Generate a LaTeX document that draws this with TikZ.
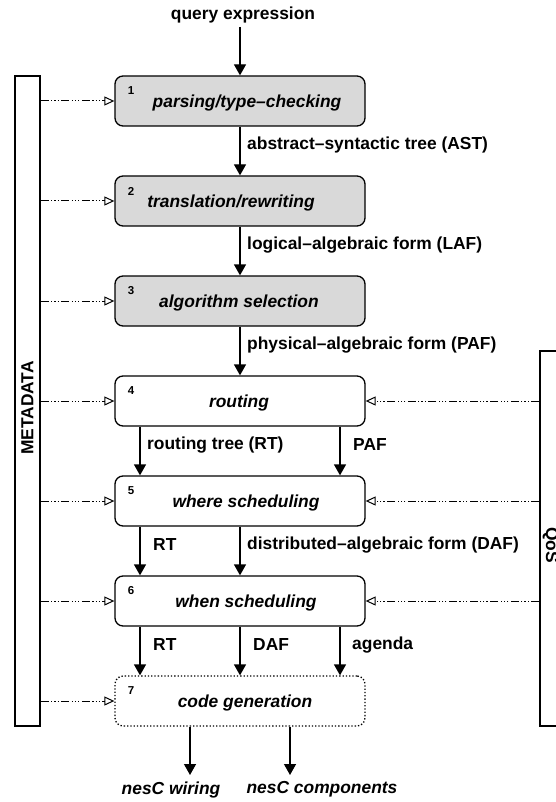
\documentclass[tikz,border=0pt]{standalone}
\usepackage{fontspec}
\setmainfont{Liberation Sans}
\usetikzlibrary{arrows.meta}
\begin{document}
\begin{tikzpicture}[x=1pt,y=-1pt,
  every node/.style={font=\fontsize{17.4}{20}\selectfont\bfseries, inner sep=0pt},
  stage/.style={draw, line width=1.3pt, rounded corners=8pt, minimum width=250pt, minimum height=50pt},
  greystage/.style={stage, fill=black!15},
  dotstage/.style={stage, dash pattern=on 1.3pt off 2pt},
  num/.style={font=\fontsize{11.5}{13}\selectfont\bfseries},
  lab/.style={font=\fontsize{17.4}{20}\selectfont\bfseries\itshape},
  arr/.style={line width=1.3pt, -{Triangle[width=12pt,length=11pt]}},
  dd/.style={line width=1pt, dash pattern=on 8pt off 2.5pt on 1.2pt off 2pt on 1.2pt off 2pt on 1.2pt off 2.5pt, -{Triangle[open,width=9pt,length=10pt,line width=1pt]}},
  elab/.style={anchor=west},
  sidebox/.style={draw, line width=1.3pt, minimum width=25pt}
]
\useasboundingbox (0,0) rectangle (555,802);

% side boxes
\node[sidebox, minimum height=650pt] (meta) at (27.5,401) {};
\node[rotate=90] (metat) at (27.5,408) {METADATA};
\node[sidebox, minimum height=375pt] (qos) at (552.5,538.5) {};
\node[rotate=-90] (qost) at (550.5,545) {QoS};

% stages
\node[greystage] (b1) at (240,101) {};
\node[greystage] (b2) at (240,201) {};
\node[greystage] (b3) at (240,301) {};
\node[stage] (b4) at (240,401) {};
\node[stage] (b5) at (240,501) {};
\node[stage] (b6) at (240,601) {};
\node[dotstage] (b7) at (240,701) {};

\node[lab] (t1) at (247,103) {parsing/type–checking};
\node[lab] (t2) at (231,203) {translation/rewriting};
\node[lab] (t3) at (239,303) {algorithm selection};
\node[lab] (t4) at (239,403) {routing};
\node[lab] (t5) at (246,503) {where scheduling};
\node[lab] (t6) at (246,603) {when scheduling};
\node[lab] (t7) at (245,703) {code generation};

\node[num] (n1) at (131,91) {1};
\node[num] (n2) at (131,191) {2};
\node[num] (n3) at (131,291) {3};
\node[num] (n4) at (131,391) {4};
\node[num] (n5) at (131,491) {5};
\node[num] (n6) at (131,591) {6};
\node[num] (n7) at (131,691) {7};

% input
\node (q) at (243,15) {query expression};
\coordinate (qs) at (240,27);
\draw[arr] (qs) -- (b1.north);

% main arrows
\draw[arr] (b1.south) -- (b2.north);
\draw[arr] (b2.south) -- (b3.north);
\draw[arr] (b3.south) -- (b4.north);
\draw[arr] ([xshift=-100pt]b4.south) -- ([xshift=-100pt]b5.north);
\draw[arr] ([xshift=100pt]b4.south) -- ([xshift=100pt]b5.north);
\draw[arr] ([xshift=-100pt]b5.south) -- ([xshift=-100pt]b6.north);
\draw[arr] (b5.south) -- (b6.north);
\draw[arr] ([xshift=-100pt]b6.south) -- ([xshift=-100pt]b7.north);
\draw[arr] (b6.south) -- (b7.north);
\draw[arr] ([xshift=100pt]b6.south) -- ([xshift=100pt]b7.north);

% edge labels
\node[elab] (l1) at (247,145) {abstract–syntactic tree (AST)};
\node[elab] (l2) at (247,245) {logical–algebraic form (LAF)};
\node[elab] (l3) at (247,345) {physical–algebraic form (PAF)};
\node[elab] (l4a) at (147,445) {routing tree (RT)};
\node[elab] (l4b) at (353,445) {PAF};
\node[elab] (l5a) at (153,545) {RT};
\node[elab] (l5b) at (247,545) {distributed–algebraic form (DAF)};
\node[elab] (l6a) at (153,645) {RT};
\node[elab] (l6b) at (253,645) {DAF};
\node[elab] (l6c) at (352,645) {agenda};

% outputs
\coordinate (o1) at (190,775);
\coordinate (o2) at (290,775);
\draw[arr] (b7.south -| o1) -- (o1);
\draw[arr] (b7.south -| o2) -- (o2);
\node[lab] (w) at (171,789.5) {nesC wiring};
\node[lab] (c) at (322,789.5) {nesC components};

% metadata / qos connectors
\foreach \i in {1,...,7}{
  \draw[dd] (b\i.west -| meta.east) -- (b\i.west);
}
\foreach \i in {4,5,6}{
  \draw[dd] (b\i.east -| qos.west) -- (b\i.east);
}
\end{tikzpicture}
\end{document}
